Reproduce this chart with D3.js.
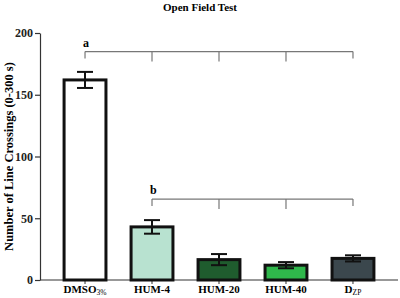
<!DOCTYPE html>
<meta charset="utf-8">
<script src="https://d3js.org/d3.v7.min.js"></script>
<style>
  body { margin: 0; background: #fff; }
  text { font-family: "Liberation Serif", "Times New Roman", serif; font-weight: bold; }
</style>
<div id="chart"></div>
<script>
// data
var groups = ["DMSO", "HUM-4", "HUM-20", "HUM-40", "D"];
var subs = ["3%", "", "", "", "ZP"];
var means = [162, 43, 16.5, 12, 17.5];
var errs = [6.5, 5.5, 4.5, 2.5, 2.5];
var fills = ["#ffffff", "#b8e2d0", "#1f5c2e", "#2fb74b", "#3b474d"];
var yTicks = [0, 50, 100, 150, 200];
// significance brackets: label, level, from group
var bracketA = { label: "a", level: 185, from: 0 };
var bracketB = { label: "b", level: 65.5, from: 1 };

var width = 400, height = 298;
var plotLeft = 40, plotRight = 398, plotTop = 33, plotBottom = 280;

var svg = d3.select("#chart").append("svg")
  .attr("width", width)
  .attr("height", height);

var x = d3.scaleBand()
  .domain(groups)
  .range([plotLeft, plotRight])
  .paddingInner(0.33)
  .paddingOuter(0.337);

var y = d3.scaleLinear()
  .domain([0, 200])
  .range([plotBottom, plotTop]);

// title
svg.append("text")
  .attr("x", 200).attr("y", 11)
  .attr("text-anchor", "middle")
  .style("font-size", "11px")
  .text("Open Field Test");

// y axis
var yAxis = svg.append("g")
  .attr("transform", "translate(" + plotLeft + ",0)")
  .call(d3.axisLeft(y).tickValues(yTicks).tickSize(5).tickPadding(2).tickSizeOuter(0));
yAxis.select(".domain").attr("stroke", "#333").attr("stroke-width", 1.2);
yAxis.selectAll(".tick line").attr("stroke", "#333").attr("stroke-width", 1.2);
yAxis.selectAll("text").style("font-size", "12px").attr("fill", "#222")
  .style("font-family", "'Liberation Serif', serif").style("font-weight", "bold");

svg.append("text")
  .attr("transform", "translate(13," + ((plotTop + plotBottom) / 2) + ") rotate(-90)")
  .attr("text-anchor", "middle")
  .style("font-size", "12.5px")
  .text("Number of Line Crossings (0-300 s)");

// x axis
svg.append("line")
  .attr("x1", plotLeft).attr("x2", plotRight)
  .attr("y1", plotBottom).attr("y2", plotBottom)
  .attr("stroke", "#333").attr("stroke-width", 1.2);

var cx = function (d) { return x(d) + x.bandwidth() / 2; };

svg.selectAll(".xtick")
  .data(groups)
  .enter().append("line")
  .attr("x1", cx).attr("x2", cx)
  .attr("y1", plotBottom).attr("y2", plotBottom + 4)
  .attr("stroke", "#333").attr("stroke-width", 1);

var xl = svg.selectAll(".xlab")
  .data(groups)
  .enter().append("text")
  .attr("x", cx)
  .attr("y", 293)
  .attr("text-anchor", "middle")
  .style("font-size", "11px");
xl.append("tspan").text(function (d) { return d; });
xl.append("tspan")
  .attr("dy", 2)
  .style("font-size", "7.5px")
  .style("font-weight", "normal")
  .text(function (d, i) { return subs[i]; });

// bars
svg.selectAll(".bar")
  .data(groups)
  .enter().append("rect")
  .attr("x", function (d) { return x(d) + 1.5; })
  .attr("width", x.bandwidth() - 3)
  .attr("y", function (d, i) { return y(means[i]); })
  .attr("height", function (d, i) { return plotBottom - y(means[i]); })
  .attr("fill", function (d, i) { return fills[i]; })
  .attr("stroke", "#111")
  .attr("stroke-width", 3);

// error bars
groups.forEach(function (g, i) {
  var c = cx(g), hi = y(means[i] + errs[i]), lo = y(means[i] - errs[i]);
  var e = svg.append("g").attr("stroke", "#111").attr("stroke-width", 2);
  e.append("line").attr("x1", c).attr("x2", c).attr("y1", hi).attr("y2", lo);
  e.append("line").attr("x1", c - 8).attr("x2", c + 8).attr("y1", hi).attr("y2", hi);
  e.append("line").attr("x1", c - 8).attr("x2", c + 8).attr("y1", lo).attr("y2", lo);
});

// significance brackets
function bracket(b) {
  var gs = groups.slice(b.from);
  var yl = y(b.level);
  var g = svg.append("g").attr("stroke", "#777").attr("stroke-width", 1.2).attr("fill", "none");
  g.append("line")
    .attr("x1", cx(gs[0])).attr("x2", cx(gs[gs.length - 1]))
    .attr("y1", yl).attr("y2", yl);
  gs.forEach(function (d, i) {
    var end = (i === 0 || i === gs.length - 1);
    g.append("line")
      .attr("x1", cx(d)).attr("x2", cx(d))
      .attr("y1", yl).attr("y2", yl + (end ? 7 : 10));
  });
  svg.append("text")
    .attr("x", cx(gs[0]) - 2).attr("y", yl - 5)
    .style("font-size", "12px")
    .text(b.label);
}
bracket(bracketA);
bracket(bracketB);
</script>
